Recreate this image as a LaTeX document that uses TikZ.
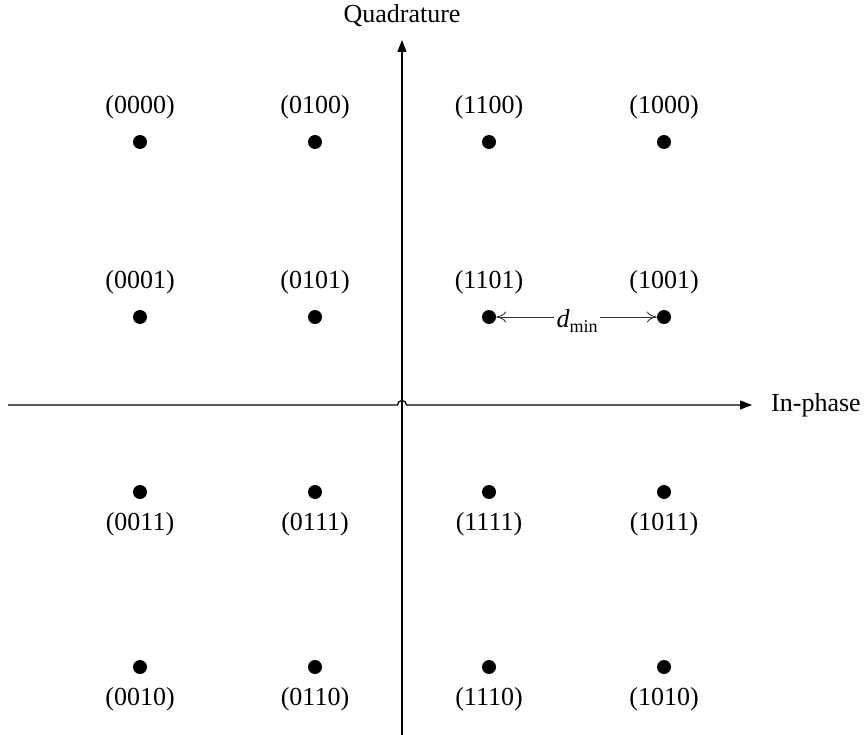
\documentclass[tikz,border=0pt]{standalone}
\usepackage{fontspec}
\setmainfont{Liberation Serif}
\usetikzlibrary{arrows.meta}
\begin{document}
\begin{tikzpicture}[x=1pt,y=-1pt,
  dot/.style={circle,fill=black,inner sep=0pt,minimum size=14pt},
  lbl/.style={font=\fontsize{26}{30}\selectfont,inner sep=0pt},
  axis/.style={line width=1.3pt,-{Triangle[length=12pt,width=9pt]}},
  dmarrow/.style={line width=0.9pt,draw=black!80,-{To[length=10pt,width=11pt]}}]
\useasboundingbox (0,0) rectangle (867,735);
% axes
\coordinate (xs) at (8,405);
\coordinate (h1) at (397.5,405);
\coordinate (xe) at (752,405);
\coordinate (ys) at (402,735);
\coordinate (ye) at (402,40);
\draw[axis] (ys) -- (ye);
\draw[axis] (xs) -- (h1) arc[start angle=180,end angle=360,radius=4.5] -- (xe);
\node[lbl] (qlab) at (402,16) {Quadrature};
\node[lbl,anchor=west] (ilab) at (771,405) {In-phase};
% top rows
\node[dot] (p0000) at (140,142) {}; \node[lbl] (l0000) at (140,107) {(0000)};
\node[dot] (p0100) at (315,142) {}; \node[lbl] (l0100) at (315,107) {(0100)};
\node[dot] (p1100) at (489,142) {}; \node[lbl] (l1100) at (489,107) {(1100)};
\node[dot] (p1000) at (664,142) {}; \node[lbl] (l1000) at (664,107) {(1000)};
\node[dot] (p0001) at (140,317) {}; \node[lbl] (l0001) at (140,282) {(0001)};
\node[dot] (p0101) at (315,317) {}; \node[lbl] (l0101) at (315,282) {(0101)};
\node[dot] (p1101) at (489,317) {}; \node[lbl] (l1101) at (489,282) {(1101)};
\node[dot] (p1001) at (664,317) {}; \node[lbl] (l1001) at (664,282) {(1001)};
% bottom rows
\node[dot] (p0011) at (140,492) {}; \node[lbl] (l0011) at (140,524) {(0011)};
\node[dot] (p0111) at (315,492) {}; \node[lbl] (l0111) at (315,524) {(0111)};
\node[dot] (p1111) at (489,492) {}; \node[lbl] (l1111) at (489,524) {(1111)};
\node[dot] (p1011) at (664,492) {}; \node[lbl] (l1011) at (664,524) {(1011)};
\node[dot] (p0010) at (140,667) {}; \node[lbl] (l0010) at (140,699) {(0010)};
\node[dot] (p0110) at (315,667) {}; \node[lbl] (l0110) at (315,699) {(0110)};
\node[dot] (p1110) at (489,667) {}; \node[lbl] (l1110) at (489,699) {(1110)};
\node[dot] (p1010) at (664,667) {}; \node[lbl] (l1010) at (664,699) {(1010)};
% dmin
\node[lbl,inner xsep=2pt,inner ysep=0pt] (dm) at (577,321) {\itshape d\raisebox{-0.22em}{\upshape\fontsize{18}{20}\selectfont min}};
\draw[dmarrow] (dm.west |- p1101) -- (p1101.east);
\draw[dmarrow] (dm.east |- p1001) -- (p1001.west);
\end{tikzpicture}
\end{document}
